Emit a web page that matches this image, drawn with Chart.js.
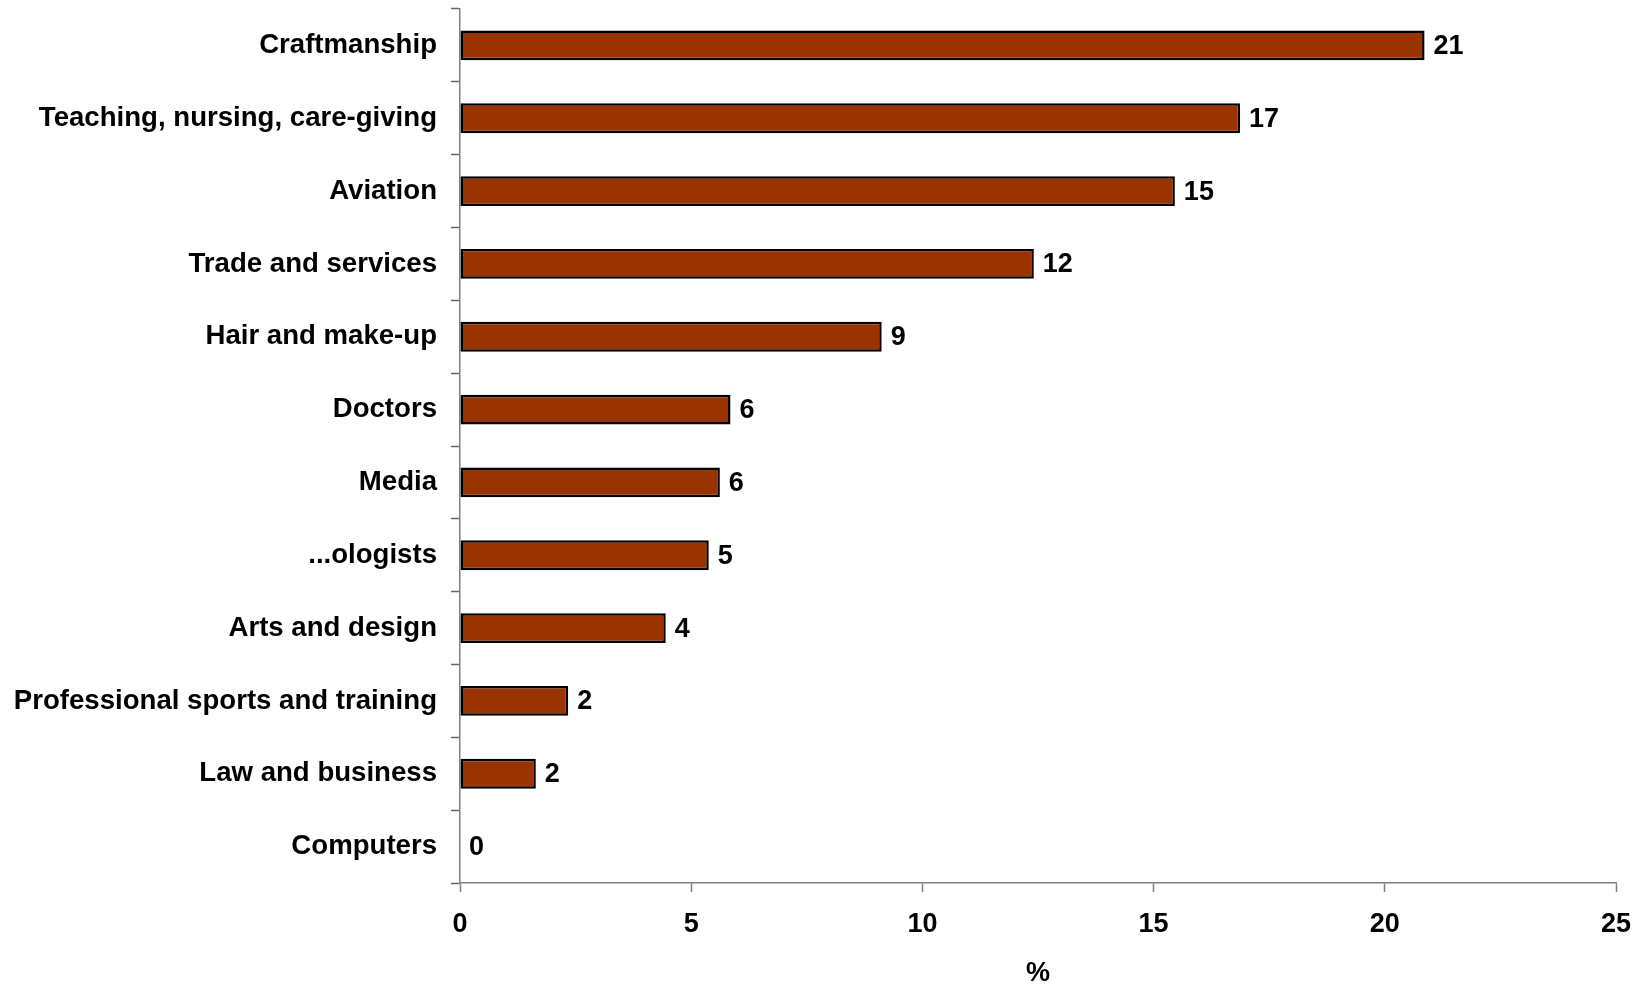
<!DOCTYPE html>
<html>
<head>
<meta charset="utf-8">
<script src="https://cdn.jsdelivr.net/npm/chart.js@4/dist/chart.umd.min.js"></script>
<style>
  html, body { margin: 0; padding: 0; background: #fff; }
  #wrap { width: 1644px; height: 990px; }
</style>
</head>
<body>
<div id="wrap"><canvas id="grafico" width="1644" height="990"></canvas></div>
<script>
// Categorias (de arriba hacia abajo)
const categorias = [
  'Craftmanship',
  'Teaching, nursing, care-giving',
  'Aviation',
  'Trade and services',
  'Hair and make-up',
  'Doctors',
  'Media',
  '...ologists',
  'Arts and design',
  'Professional sports and training',
  'Law and business',
  'Computers'
];

// Porcentajes
const valores = [20.86, 16.87, 15.46, 12.41, 9.12, 5.85, 5.62, 5.38, 4.45, 2.34, 1.64, 0];

// Marcas del eje x
const marcasX = [0, 5, 10, 15, 20, 25];

const fuente = '"Liberation Sans", Arial, sans-serif';

// Plugin para escribir el valor al final de cada barra
const etiquetasValores = {
  id: 'etiquetasValores',
  afterDatasetsDraw(chart) {
    const ctx = chart.ctx;
    const meta = chart.getDatasetMeta(0);
    ctx.save();
    ctx.font = 'bold 27px ' + fuente;
    ctx.fillStyle = '#000';
    ctx.textAlign = 'left';
    ctx.textBaseline = 'middle';
    meta.data.forEach((barra, i) => {
      ctx.fillText(String(Math.round(valores[i])), barra.x + 9, barra.y + 1);
    });
    ctx.restore();
  }
};

const ctx = document.getElementById('grafico').getContext('2d');
const grafico = new Chart(ctx, {
  type: 'bar',
  data: {
    labels: categorias,
    datasets: [{
      data: valores,
      backgroundColor: '#993300',
      borderColor: '#000',
      borderWidth: 2.5,
      borderSkipped: false,
      categoryPercentage: 1,
      barPercentage: 0.41
    }]
  },
  options: {
    indexAxis: 'y',
    responsive: false,
    animation: false,
    layout: { padding: { top: 9, right: 28, left: 0, bottom: 0 } },
    plugins: {
      legend: { display: false },
      tooltip: { enabled: false }
    },
    scales: {
      x: {
        min: 0,
        max: 25,
        afterBuildTicks: (eje) => { eje.ticks = marcasX.map(v => ({ value: v })); },
        afterFit: (eje) => { eje.height = 107; eje.paddingLeft = 0; eje.paddingRight = 0; },
        border: { color: '#808080', width: 1.5 },
        grid: { drawOnChartArea: false, drawTicks: true, tickLength: 9, color: '#808080', tickWidth: 1.5 },
        ticks: {
          color: '#000',
          padding: 16,
          font: { family: fuente, size: 27, weight: 'bold' },
          maxRotation: 0
        },
        title: {
          display: true,
          text: '%',
          color: '#000',
          padding: { top: 17, bottom: 0 },
          font: { family: fuente, size: 27, weight: 'bold' }
        }
      },
      y: {
        afterFit: (eje) => { eje.width = 460; eje.paddingTop = 0; eje.paddingBottom = 0; },
        border: { color: '#808080', width: 1.5 },
        grid: { drawOnChartArea: false, drawTicks: true, tickLength: 9, color: '#666', tickWidth: 1.5, offset: true },
        ticks: {
          color: '#000',
          padding: 14,
          autoSkip: false,
          font: { family: fuente, size: 27.6, weight: 'bold' }
        }
      }
    }
  },
  plugins: [etiquetasValores]
});
</script>
</body>
</html>
